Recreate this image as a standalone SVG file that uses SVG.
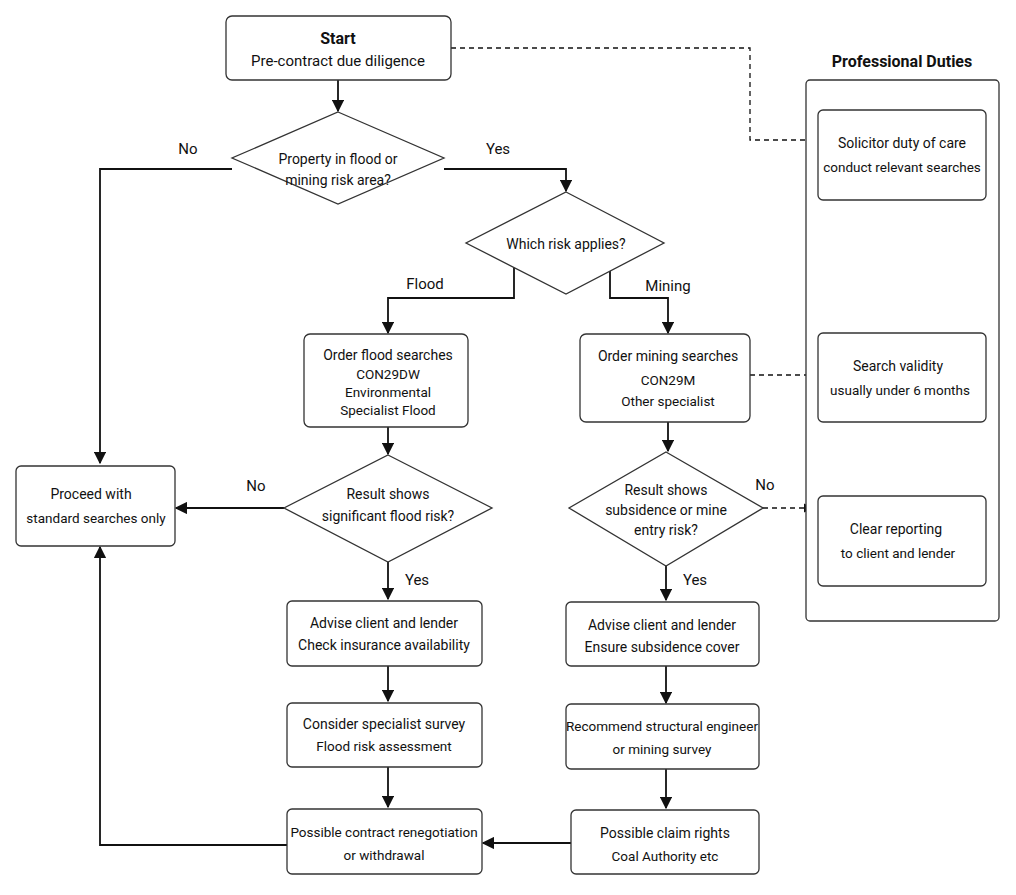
<svg xmlns="http://www.w3.org/2000/svg" width="1016" height="895" viewBox="0 0 1016 895">
<style>
text{font-family:Roboto,"Liberation Sans",sans-serif;font-size:14px;fill:#111;text-anchor:middle}
.b{font-size:16px;font-weight:bold}
.t{font-size:15px}
.s{font-size:13.5px}
.n{fill:#fff;stroke:#333;stroke-width:1.3}
.c{fill:none;stroke:#111;stroke-width:1.8}
.d{fill:none;stroke:#111;stroke-width:1.3;stroke-dasharray:5 4}
</style>
<defs><marker id="a" viewBox="0 0 10 10" refX="9" refY="5" markerWidth="7" markerHeight="7" orient="auto"><path d="M0,0L10,5L0,10z" fill="#111"/></marker></defs>
<rect width="1016" height="895" fill="#fff"/>
<g id="connectors">
<path class="d" d="M451,48H750V140H806"/>
<path class="d" d="M750,375H806"/>
<path class="d" d="M763,508H812" marker-end="url(#a)"/>
<path class="c" d="M338,80V111" marker-end="url(#a)"/>
<path class="c" d="M232,169H100V463" marker-end="url(#a)"/>
<path class="c" d="M444,169H566V191" marker-end="url(#a)"/>
<path class="c" d="M514,266V298H388V333" marker-end="url(#a)"/>
<path class="c" d="M610,266V298H668V333" marker-end="url(#a)"/>
<path class="c" d="M388,427V454" marker-end="url(#a)"/>
<path class="c" d="M284,508H176" marker-end="url(#a)"/>
<path class="c" d="M388,562V599" marker-end="url(#a)"/>
<path class="c" d="M388,666V701" marker-end="url(#a)"/>
<path class="c" d="M388,767V807" marker-end="url(#a)"/>
<path class="c" d="M287,845H100V547" marker-end="url(#a)"/>
<path class="c" d="M668,422V451" marker-end="url(#a)"/>
<path class="c" d="M666,566V600" marker-end="url(#a)"/>
<path class="c" d="M666,666V703" marker-end="url(#a)"/>
<path class="c" d="M666,769V808" marker-end="url(#a)"/>
<path class="c" d="M571,843H483" marker-end="url(#a)"/>
<text x="188" y="154" class="t">No</text>
<text x="498" y="154" class="t">Yes</text>
<text x="425" y="289" class="t">Flood</text>
<text x="668" y="291" class="t">Mining</text>
<text x="256" y="491" class="t">No</text>
<text x="417" y="585" class="t">Yes</text>
<text x="765" y="490" class="t">No</text>
<text x="695" y="585" class="t">Yes</text>
</g>
<g id="duties"><rect x="806" y="80" width="193" height="541" rx="4" class="n"/><text x="902" y="67" class="b">Professional Duties</text></g>
<g id="start"><rect x="226" y="16" width="225" height="64" rx="6" class="n"/><text x="338" y="44" class="b">Start</text><text x="338" y="66" class="t">Pre-contract due diligence</text></g>
<g id="q1"><path d="M338,112L444,158L338,204L232,158z" class="n"/><text x="338" y="164">Property in flood or</text><text x="338" y="185">mining risk area?</text></g>
<g id="q2"><path d="M566,192L664,243L566,294L466,243z" class="n"/><text x="566" y="249">Which risk applies?</text></g>
<g id="flood"><rect x="304" y="334" width="164" height="93" rx="6" class="n"/><text x="388" y="360">Order flood searches</text><text x="388" y="379" class="s">CON29DW</text><text x="388" y="397" class="s">Environmental</text><text x="388" y="415" class="s">Specialist Flood</text></g>
<g id="mining"><rect x="580" y="334" width="170" height="88" rx="6" class="n"/><text x="668" y="361">Order mining searches</text><text x="668" y="385" class="s">CON29M</text><text x="668" y="406" class="s">Other specialist</text></g>
<g id="proceed"><rect x="16" y="466" width="159" height="80" rx="5" class="n"/><text x="91" y="499">Proceed with</text><text x="96" y="523" class="s">standard searches only</text></g>
<g id="q3"><path d="M388,455L492,508L388,562L284,508z" class="n"/><text x="388" y="499">Result shows</text><text x="388" y="521">significant flood risk?</text></g>
<g id="q4"><path d="M666,452L763,508L666,566L569,508z" class="n"/><text x="666" y="495">Result shows</text><text x="666" y="515">subsidence or mine</text><text x="666" y="535">entry risk?</text></g>
<g id="adv1"><rect x="287" y="601" width="195" height="65" rx="5" class="n"/><text x="384" y="628">Advise client and lender</text><text x="384" y="650">Check insurance availability</text></g>
<g id="cons"><rect x="287" y="703" width="195" height="64" rx="5" class="n"/><text x="384" y="729">Consider specialist survey</text><text x="384" y="751" class="s">Flood risk assessment</text></g>
<g id="reneg"><rect x="287" y="809" width="195" height="65" rx="5" class="n"/><text x="384" y="837" class="s">Possible contract renegotiation</text><text x="384" y="860" class="s">or withdrawal</text></g>
<g id="adv2"><rect x="566" y="602" width="193" height="64" rx="5" class="n"/><text x="662" y="630">Advise client and lender</text><text x="662" y="652">Ensure subsidence cover</text></g>
<g id="rec"><rect x="566" y="704" width="193" height="65" rx="5" class="n"/><text x="662" y="731" class="s">Recommend structural engineer</text><text x="662" y="754" class="s">or mining survey</text></g>
<g id="claim"><rect x="571" y="810" width="188" height="64" rx="5" class="n"/><text x="665" y="838">Possible claim rights</text><text x="665" y="861" class="s">Coal Authority etc</text></g>
<g id="sol"><rect x="818" y="110" width="168" height="90" rx="5" class="n"/><text x="902" y="148">Solicitor duty of care</text><text x="902" y="172" class="s">conduct relevant searches</text></g>
<g id="val"><rect x="818" y="333" width="168" height="89" rx="5" class="n"/><text x="898" y="371">Search validity</text><text x="900" y="395" class="s">usually under 6 months</text></g>
<g id="rep"><rect x="818" y="496" width="168" height="90" rx="5" class="n"/><text x="896" y="534">Clear reporting</text><text x="898" y="558" class="s">to client and lender</text></g>
</svg>
